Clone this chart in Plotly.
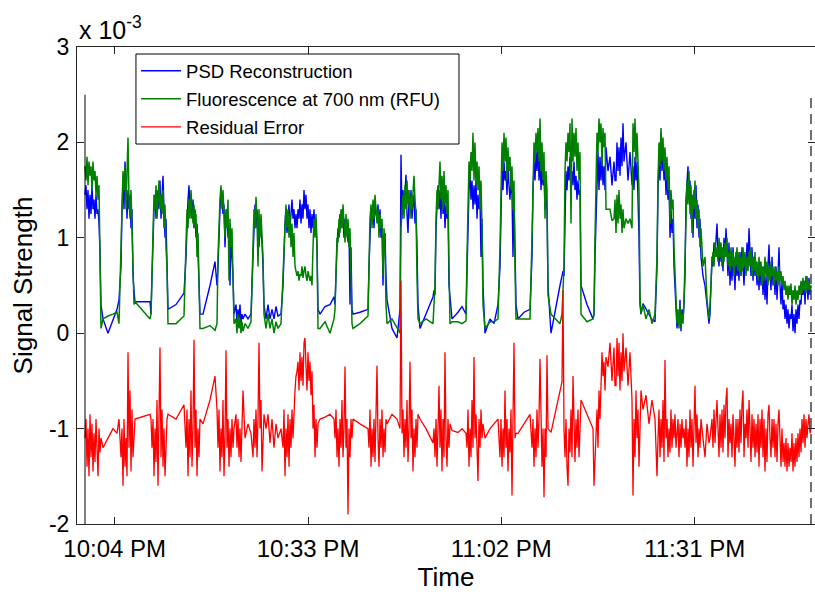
import pandas as pd
import plotly.graph_objects as go

# Sample times, seconds after 10:00:00 PM
time_s = [
    -27, -18, -9, 0, 9, 18, 27, 36, 45, 54, 63, 72, 81, 90, 99,
    108, 117, 135, 180, 225, 261, 279,
    297, 306, 315, 324, 333, 342, 351, 360, 369, 378, 387, 396, 405, 414, 423,
    558, 567, 576, 585, 594, 603, 612, 621, 630, 639, 648, 657, 666, 675, 684, 693, 702, 711, 720,
    792, 864, 882, 891, 900, 909, 918, 927, 936, 945, 954, 963, 972, 981, 990, 999, 1008,
    1035, 1098, 1143, 1161, 1170, 1179, 1188, 1197, 1206, 1215, 1224, 1233, 1242, 1251, 1260, 1269, 1278, 1287, 1296, 1305, 1314,
    1332, 1341, 1350, 1359, 1368, 1377, 1386, 1395, 1413, 1440, 1467,
    1485, 1494, 1503, 1512, 1521, 1530, 1539, 1548, 1557, 1566, 1575, 1584,
    1602, 1620, 1638, 1656, 1674, 1692, 1710, 1737,
    1755, 1764, 1773, 1782, 1791, 1800, 1809, 1818, 1827, 1836, 1845, 1854, 1863, 1872, 1881, 1890, 1899, 1908,
    1917, 1926, 1935, 1944, 1953, 1962, 1971, 1980, 1989, 1998, 2007, 2016, 2025, 2034, 2043, 2052, 2061, 2070,
    2088, 2133, 2178, 2214, 2223, 2232, 2241, 2250, 2259, 2268, 2277, 2286, 2295, 2304, 2313, 2322, 2331, 2340, 2349, 2358, 2367, 2376,
    2385, 2448, 2520, 2529, 2538, 2547, 2556, 2565, 2574, 2583, 2592, 2601, 2610, 2619, 2628, 2637, 2646, 2655, 2664, 2673, 2682, 2691,
    2736, 2781, 2808, 2817, 2826, 2835, 2844, 2853, 2862, 2871, 2880, 2889, 2898, 2907, 2916, 2925, 2934, 2943, 2952, 2961, 2970,
    2988, 3042, 3105, 3114, 3123, 3132, 3141, 3150, 3159, 3168, 3177, 3186, 3195, 3204, 3213, 3222, 3231, 3240, 3249, 3258,
    3276, 3330, 3366, 3402, 3411, 3420, 3429, 3438, 3447, 3456, 3465, 3474, 3483, 3492, 3501, 3510, 3519, 3528, 3537, 3546, 3555,
    3573, 3618, 3654, 3690, 3708, 3717, 3726, 3735, 3744, 3753, 3762, 3771, 3780, 3789, 3798, 3807, 3816, 3825, 3834, 3843, 3852,
    3870, 3924, 3978, 3996, 4005, 4014, 4023, 4032, 4041, 4050, 4059, 4068, 4077, 4086, 4095, 4104, 4113, 4122, 4131, 4140,
    4167, 4212, 4248, 4266, 4275, 4284, 4293, 4302, 4311, 4320, 4329, 4338, 4347, 4356, 4365, 4374, 4383, 4392, 4401, 4410, 4419, 4428, 4437,
    4491, 4545, 4554, 4563, 4572, 4581, 4590, 4599, 4608, 4617, 4626, 4635, 4644, 4653, 4662, 4680, 4698, 4716, 4734,
    4743, 4752, 4761, 4770, 4779, 4788, 4797, 4806, 4815, 4824, 4842, 4860, 4878, 4896,
    4905, 4914, 4923, 4932, 4941, 4950, 4959, 4968,
    4977, 4995, 5022, 5049, 5076, 5103,
    5121, 5130, 5139, 5148, 5157, 5166, 5175, 5184, 5193, 5202, 5211, 5220, 5229, 5238, 5247,
    5256, 5265, 5274, 5283, 5292, 5301, 5310, 5319, 5328, 5337, 5346, 5355, 5364, 5373, 5382,
    5391, 5400, 5409, 5418, 5427, 5436, 5445, 5454, 5463, 5472, 5481, 5490, 5499, 5508, 5517,
    5535, 5553, 5571, 5589,
    5598, 5607, 5616, 5625, 5634, 5643, 5652, 5661, 5670, 5679,
    5688, 5697, 5706, 5715, 5724, 5733, 5742, 5751, 5760, 5769,
    5778, 5787, 5796, 5805, 5814, 5823, 5832, 5841, 5850, 5859,
    5868, 5877, 5886, 5895, 5904, 5913, 5922, 5931, 5940, 5949,
    5958, 5967, 5976, 5985, 5994, 6003, 6012, 6021, 6030, 6039,
    6048, 6057, 6066, 6075, 6084, 6093, 6102, 6111, 6120, 6129,
    6138, 6147, 6156, 6165, 6174, 6183, 6192, 6201, 6210, 6219,
    6228, 6237, 6246, 6255, 6264, 6273, 6282, 6291, 6300, 6309,
    6318, 6327, 6336, 6345, 6354, 6363, 6372, 6381, 6390, 6399,
    6408, 6417, 6426, 6435, 6444, 6453, 6462, 6471, 6480, 6489,
    6498, 6507,
]

# Fluorescence at 700 nm (RFU), x 10^-3
fluorescence = [
    1.75, 1.6, 1.85, 1.55, 1.8, 1.65, 1.75, 1.5, 1.8, 1.6, 1.7, 1.45, 1.65, 1.4, 1.55,
    0.9, 0.05, 0.15, 0.18, 0.2, 0.22, 0.1,
    0.9, 1.4, 1.7, 1.5, 1.75, 1.3, 1.6, 2.05, 1.4, 1.2, 1.5, 1.0, 0.6, 0.3, 0.33,
    0.15, 0.2, 0.7, 1.2, 1.45, 1.3, 1.55, 1.2, 1.5, 1.6, 1.3, 1.45, 1.25, 1.5, 1.1, 1.35, 0.9, 0.7, 0.1,
    0.1, 0.18, 0.9, 1.3, 1.1, 1.4, 1.2, 1.5, 1.3, 1.15, 1.35, 1.1, 1.25, 0.8, 1.05, 0.6, 0.05,
    0.05, 0.08, 0.03, 0.1, 0.8, 1.2, 1.4, 1.55, 1.3, 1.5, 1.2, 1.0, 1.3, 1.1, 1.4, 0.55, 1.2, 0.9, 1.1, 0.5, 0.1,
    0.15, 0.0, 0.2, 0.05, 0.15, 0.0, 0.12, 0.02, 0.1, 0.05, 0.12,
    0.9, 1.3, 1.1, 1.43, 1.2, 0.7, 1.3, 1.0, 1.25, 1.05, 0.8, 0.2,
    0.05, 0.2, 0.05, 0.15, 0.0, 0.12, 0.05, 0.1,
    0.6, 1.0, 1.2, 1.35, 1.1, 1.3, 1.0, 1.25, 0.9, 1.15, 0.8, 1.05, 0.7, 0.65, 0.6, 0.65, 0.55, 0.62,
    0.6, 0.7, 0.58, 0.65, 0.7, 0.6, 0.55, 0.65, 0.6, 0.55, 0.6, 0.5, 0.9, 1.2, 1.0, 1.25, 0.9, 0.05,
    0.05, 0.12, 0.0, 0.15, 0.25, 0.8, 1.0, 0.95, 1.2, 1.05, 1.3, 1.1, 1.35, 1.15, 0.95, 1.25, 1.0, 1.2, 0.9, 1.1, 0.6, 0.1,
    0.05, 0.1, 0.18, 0.8, 1.2, 1.35, 1.1, 1.4, 1.2, 1.45, 1.3, 1.15, 1.3, 1.0, 1.25, 1.1, 1.2, 0.6, 1.1, 0.9, 0.3, 0.1,
    0.15, 0.05, 0.0, 1.1, 1.3, 1.45, 1.2, 1.55, 1.3, 1.6, 1.35, 1.5, 1.2, 1.45, 1.3, 1.55, 1.65, 1.4, 1.25, 0.6, 0.15,
    0.1, 0.15, 0.1, 0.3, 0.5, 1.2, 1.5, 1.3, 1.6, 1.8, 1.4, 1.65, 1.3, 1.7, 1.35, 1.55, 1.25, 1.5, 0.7, 0.1,
    0.12, 0.12, 0.1, 0.13, 0.8, 1.5, 1.8, 1.6, 1.9, 1.7, 2.1, 1.6, 2.0, 1.55, 1.8, 1.5, 1.75, 1.3, 1.6, 1.1, 0.3,
    0.05, 0.12, 0.12, 0.15, 0.9, 1.6, 2.0, 1.7, 2.1, 1.8, 2.05, 1.6, 1.95, 1.7, 1.85, 1.5, 1.75, 1.3, 1.6, 0.7, 0.15,
    0.15, 0.15, 0.15, 1.0, 1.7, 2.0, 1.8, 2.1, 1.9, 2.15, 1.8, 2.25, 1.7, 2.0, 1.6, 1.9, 1.2, 1.7, 1.5, 0.4,
    0.2, 0.15, 0.1, 0.2, 0.5, 0.7, 1.7, 2.0, 1.8, 2.1, 1.9, 2.2, 1.15, 2.25, 1.8, 2.1, 1.85, 2.15, 1.7, 2.0, 1.6, 1.9, 0.2,
    0.12, 0.15, 0.2, 1.0, 1.6, 2.1, 1.9, 2.25, 2.0, 2.2, 1.75, 2.15, 1.95, 2.1, 1.3, 1.3, 1.3, 1.18, 1.2,
    1.4, 1.05, 1.45, 1.15, 1.5, 1.2, 1.35, 1.05, 1.3, 1.1, 1.2, 1.15, 1.2, 1.1,
    2.2, 1.9, 2.25, 1.8, 2.1, 1.85, 1.5, 0.4,
    0.2, 0.3, 0.15, 0.25, 0.1, 0.2,
    0.8, 1.6, 2.0, 1.75, 2.15, 1.8, 2.05, 1.7, 1.95, 1.6, 1.85, 1.5, 1.75, 1.15, 1.5,
    1.3, 1.4, 0.9, 0.6, 0.3, 0.1, 0.25, 0.05, 0.3, 0.06, 0.2, 0.1, 0.35, 0.7, 1.3,
    1.6, 1.35, 1.7, 1.25, 1.55, 1.05, 1.45, 1.3, 1.6, 1.2, 1.4, 1.1, 1.3, 0.9, 1.1,
    0.7, 0.8, 0.35, 0.15,
    0.3, 0.55, 0.75, 0.85, 0.7, 0.95, 0.8, 0.9, 0.75, 1.0,
    0.8, 0.95, 0.7, 0.9, 0.75, 0.95, 0.8, 1.0, 0.7, 0.85,
    0.65, 0.9, 0.7, 0.85, 0.6, 0.8, 0.7, 0.9, 0.65, 0.85,
    0.6, 0.8, 0.65, 0.9, 0.7, 0.85, 0.6, 0.8, 0.65, 0.85,
    0.7, 0.9, 0.6, 0.8, 0.65, 0.85, 0.6, 0.75, 0.55, 0.8,
    0.6, 0.75, 0.5, 0.7, 0.55, 0.8, 0.6, 0.75, 0.5, 0.7,
    0.55, 0.75, 0.6, 0.7, 0.5, 0.7, 0.55, 0.65, 0.5, 0.7,
    0.55, 0.65, 0.5, 0.6, 0.45, 0.55, 0.4, 0.5, 0.35, 0.5,
    0.4, 0.52, 0.3, 0.45, 0.35, 0.5, 0.3, 0.45, 0.35, 0.5,
    0.4, 0.55, 0.42, 0.58, 0.45, 0.55, 0.42, 0.6, 0.45, 0.55,
    0.45, 0.5,
]

# PSD reconstruction, x 10^-3
psd_reconstruction = [
    1.45, 1.55, 1.3, 1.5, 1.2, 1.45, 1.25, 1.55, 1.3, 1.4, 1.2, 1.45, 1.25, 1.3, 1.15,
    0.85, 0.3, 0.15, 0.0, 0.15, 0.25, 0.35,
    0.7, 1.3, 1.6, 1.3, 1.8, 1.6, 1.2, 1.5, 1.3, 1.45, 1.1, 1.3, 0.6, 0.45, 0.33,
    0.33, 0.2, 0.6, 1.1, 1.3, 1.45, 1.2, 1.5, 1.3, 1.35, 1.6, 1.2, 1.5, 1.65, 1.3, 1.0, 1.2, 0.6, 0.25,
    0.3, 0.42, 0.8, 1.2, 1.4, 1.55, 1.3, 1.45, 1.2, 1.4, 1.1, 1.3, 1.0, 1.15, 0.8, 0.5, 0.2,
    0.2, 0.5, 0.75, 0.5, 0.7, 1.1, 1.3, 1.5, 1.4, 1.25, 1.35, 0.9, 1.2, 1.3, 1.0, 1.1, 0.5, 1.05, 0.8, 0.6, 0.2,
    0.3, 0.1, 0.25, 0.15, 0.3, 0.1, 0.2, 0.15, 0.2, 0.15, 0.2,
    0.8, 1.2, 1.35, 1.1, 1.3, 1.15, 0.9, 1.2, 1.1, 0.95, 0.7, 0.3,
    0.15, 0.3, 0.15, 0.25, 0.15, 0.28, 0.18, 0.2,
    0.5, 0.95, 1.15, 1.3, 1.05, 1.2, 1.35, 1.1, 1.25, 1.4, 1.2, 1.3, 1.1, 1.25, 1.1, 1.3, 1.2, 1.4,
    1.15, 1.35, 1.2, 1.5, 1.3, 1.45, 1.2, 1.35, 1.1, 1.3, 1.05, 1.25, 1.1, 1.3, 1.05, 1.2, 0.9, 0.25,
    0.2, 0.28, 0.3, 0.38, 0.3, 0.7, 0.9, 1.1, 1.0, 1.25, 1.1, 1.3, 1.2, 1.0, 1.2, 1.05, 1.15, 0.95, 1.1, 0.3, 0.9, 0.25,
    0.2, 0.22, 0.25, 0.7, 1.1, 1.3, 1.2, 1.35, 1.1, 1.4, 1.25, 1.2, 1.35, 1.1, 1.3, 1.0, 1.15, 0.5, 1.0, 1.05, 0.6, 0.35,
    0.05, -0.05, 0.25, 1.87, 1.2, 1.5, 1.3, 1.45, 1.66, 1.25, 1.05, 1.4, 1.3, 1.5, 1.2, 1.35, 1.45, 1.15, 1.3, 0.9, 0.3,
    0.05, 0.2, 0.38, 0.45, 0.4, 1.1, 1.4, 1.55, 1.3, 1.5, 1.2, 1.6, 1.25, 1.45, 1.1, 1.35, 1.2, 1.3, 0.5, 0.35,
    0.15, 0.22, 0.28, 0.2, 0.6, 1.3, 1.5, 1.7, 1.4, 1.6, 1.3, 1.55, 1.35, 1.6, 1.2, 1.45, 1.3, 1.4, 0.8, 1.2, 0.5,
    0.0, 0.15, 0.1, 0.3, 0.7, 1.4, 1.75, 1.5, 1.8, 1.6, 1.7, 1.45, 1.75, 1.55, 1.4, 1.6, 1.45, 0.8, 1.4, 0.9, 0.3,
    0.15, 0.22, 0.25, 0.8, 1.5, 1.8, 1.6, 1.9, 1.7, 2.0, 1.6, 1.85, 1.5, 1.75, 1.55, 1.7, 1.3, 1.45, 1.3, 0.5,
    0.0, 0.3, 0.5, 0.6, 0.65, 0.6, 1.26, 1.7, 1.5, 1.75, 1.6, 1.85, 1.5, 1.7, 1.55, 1.8, 1.5, 1.65, 1.4, 1.6, 1.45, 1.5, 0.5,
    0.3, 0.15, 0.2, 0.8, 1.2, 1.6, 1.9, 1.5, 1.85, 1.6, 1.9, 1.55, 1.75, 1.5, 1.95, 1.7, 1.85, 1.55, 1.8,
    1.6, 1.6, 2.0, 1.7, 1.95, 1.65, 2.05, 1.75, 2.2, 1.8, 2.0, 1.6, 1.9, 1.55,
    1.75, 1.5, 1.85, 1.6, 1.8, 1.5, 1.0, 0.3,
    0.2, 0.31, 0.25, 0.2, 0.14, 0.12,
    0.7, 1.5, 1.85, 1.6, 2.1, 1.7, 1.9, 1.6, 1.8, 1.45, 1.7, 1.4, 1.6, 1.0, 1.3,
    1.05, 1.2, 0.7, 0.5, 0.35, 0.05, 0.2, 0.1, 0.35, 0.02, 0.25, 0.15, 0.3, 0.6, 1.4,
    1.6, 1.75, 1.4, 1.6, 1.2, 1.45, 1.0, 1.5, 1.2, 1.55, 1.1, 1.35, 1.0, 1.2, 0.8,
    0.6, 0.5, 0.3, 0.1,
    0.2, 0.5, 0.8, 0.7, 0.95, 0.8, 1.0, 1.15, 0.85, 0.7,
    0.95, 0.75, 0.9, 0.65, 1.0, 0.8, 1.1, 0.85, 0.6, 0.95,
    0.5, 0.8, 0.55, 0.9, 0.6, 0.45, 0.85, 0.6, 0.75, 0.55,
    0.85, 0.6, 0.9, 0.7, 0.5, 0.8, 0.65, 0.95, 0.7, 1.1,
    0.8, 0.6, 0.9, 0.55, 0.8, 0.6, 0.75, 0.5, 0.7, 0.45,
    0.75, 0.5, 0.7, 0.4, 0.65, 0.35, 0.6, 0.3, 0.7, 0.93,
    0.6, 0.45, 0.8, 0.5, 0.65, 0.4, 0.7, 0.35, 0.6, 0.9,
    0.5, 0.3, 0.55, 0.25, 0.35, 0.15, 0.3, 0.1, 0.25, 0.05,
    0.2, 0.15, 0.3, 0.02, 0.2, 0.0, 0.25, 0.1, 0.3, 0.15,
    0.35, 0.3, 0.5, 0.4, 0.55, 0.3, 0.6, 0.45, 0.35, 0.58,
    0.4, 0.5,
]

# Residual error, shown offset by -1 x 10^-3
residual_error = [
    -1.1, -0.9, -1.4, -1.0, -1.5, -0.85, -1.3, -0.95, -1.45, -1.05, -1.35, -0.9, -1.2, -1.5, -1.0,
    -1.25, -1.1, -1.2, -1.1, -1.0, -1.05, -0.9,
    -1.3, -1.0, -1.6, -0.9, -1.4, -1.1, -1.5, -0.2, -1.2, -0.6, -1.45, -0.8, -1.3, -1.0, -0.9,
    -0.85, -0.9, -1.2, -0.9, -1.5, -1.0, -1.35, -0.7, -1.6, -0.9, -0.15, -1.3, -0.8, -1.4, -1.0, -1.5, -1.1, -0.9, -0.85,
    -0.9, -0.75, -1.2, -0.8, -1.5, -0.9, -1.3, -0.6, -1.4, -1.0, -0.07, -1.2, -0.8, -1.5, -1.0, -1.3, -0.9,
    -0.95, -0.7, -0.45, -0.8, -1.2, -0.8, -1.45, -1.0, -1.3, -0.7, -1.5, -1.1, -0.18, -1.2, -0.9, -1.4, -1.0, -1.3, -0.9, -1.2, -1.0,
    -0.85, -1.2, -0.9, -1.3, -1.0, -1.35, -0.9, -0.6, -1.1, -0.95, -1.05,
    -1.3, -0.9, -1.2, -0.8, -1.3, -0.9, -0.1, -1.0, -0.7, -1.45, -1.1, -0.85,
    -1.0, -0.85, -1.15, -0.9, -1.2, -0.95, -1.1, -1.0,
    -1.2, -0.8, -1.5, -1.0, -1.3, -0.85, -1.4, -0.9, -1.2, -0.8, -1.1, -0.75, -0.6, -0.45, -0.4, -0.3, -0.6, -0.2,
    -0.5, -0.25, -0.55, -0.1, -0.05, -0.35, -0.6, -0.2, -0.5, -0.3, -0.65, -0.4, -1.0, -0.75, -1.3, -0.9, -1.2, -0.95,
    -0.9, -0.88, -0.85, -0.9, -1.1, -0.8, -1.3, -1.0, -1.4, -0.9, -1.2, -0.7, -1.3, -1.0, -0.35, -1.2, -0.9, -1.9, -1.0, -1.3, -0.9, -1.1,
    -0.9, -0.95, -1.0, -1.2, -0.8, -1.4, -1.0, -1.3, -0.9, -1.35, -0.8, -0.34, -1.1, -1.4, -0.9, -1.2, -0.8, -1.3, -1.0, -1.25, -0.9, -0.95,
    -0.85, -0.9, -1.0, 0.55, -1.05, -0.8, -1.3, -0.9, -1.2, -0.7, -1.35, -1.0, -0.3, -1.1, -0.8, -1.45, -1.0, -1.3, -0.9, -1.2, -0.85,
    -0.9, -1.0, -1.15, -1.0, -1.3, -0.9, -1.4, -1.0, -0.55, -1.2, -0.8, -1.45, -0.9, -1.3, -0.2, -1.1, -1.4, -0.9, -1.2, -0.95,
    -1.02, -1.04, -1.0, -1.05, -1.2, -0.8, -1.4, -1.0, -1.3, -0.7, -1.2, -0.25, -1.1, -0.85, -1.3, -1.55, -0.9, -1.2, -0.8, -1.1, -0.95,
    -1.1, -1.0, -0.95, -0.9, -1.3, -0.9, -1.4, -1.0, -1.3, -0.6, -1.2, -0.9, -1.45, -1.0, -1.25, -0.8, -1.7, -1.0, -0.1, -1.1, -1.05,
    -1.05, -0.95, -0.85, -1.2, -0.9, -1.4, -1.0, -1.3, -0.8, -1.2, -0.9, -0.27, -1.1, -1.4, -1.0, -1.72, -1.0, -1.3, -0.23, -1.0,
    -1.04, -0.8, -0.6, -0.51, 0.45, -1.0, -1.3, -0.9, -1.4, -1.6, -1.0, -1.25, -0.8, -1.3, -0.45, -1.1, -1.35, -0.9, -1.2, -0.8, -1.3, -1.0, -0.7,
    -0.85, -1.0, -1.6, -1.3, -1.1, -0.8, -1.2, -0.6, -0.9, -0.5, -0.2, -0.45, -0.3, -0.6, -0.25, -0.35, -0.1, -0.5, -0.15,
    -0.55, -0.55, -0.05, -0.45, -0.1, -0.6, -0.2, -0.5, 0.0, -0.4, -0.15, -0.55, -0.2, -0.7,
    -1.7, -0.9, -1.3, -0.6, -1.1, -0.8, -1.4, -0.9,
    -0.6, -0.8, -0.65, -0.95, -0.7, -0.9,
    -1.5, -1.1, -0.8, -1.3, -0.9, -1.2, -0.7, -1.35, -0.28, -1.1, -0.9, -1.3, -1.0, -1.25, -0.8,
    -1.2, -0.9, -1.1, -0.85, -1.2, -1.0, -0.9, -1.3, -0.95, -1.2, -0.9, -1.1, -1.0, -1.2, -0.9,
    -1.4, -1.0, -1.3, -0.8, -1.2, -0.9, -1.4, -1.0, -0.55, -1.15, -0.85, -1.3, -1.0, -1.2, -0.9,
    -1.1, -1.3, -0.95, -1.15,
    -1.1, -0.95, -0.9, -1.2, -0.8, -1.15, -0.85, -0.7, -1.0, -1.3,
    -0.85, -1.2, -0.8, -1.25, -0.75, -1.1, -0.7, -0.57, -1.3, -0.9,
    -1.15, -0.95, -1.3, -0.85, -1.1, -1.4, -0.9, -1.2, -0.9, -1.25,
    -0.8, -1.15, -0.75, -0.6, -1.3, -0.95, -1.1, -0.8, -1.2, -0.7,
    -1.0, -1.35, -0.85, -1.2, -0.9, -1.3, -0.95, -1.25, -0.85, -1.4,
    -0.9, -1.2, -0.8, -1.3, -0.9, -1.45, -1.0, -1.35, -0.85, -0.75,
    -1.1, -1.3, -0.9, -1.2, -0.9, -1.3, -0.95, -1.35, -0.95, -0.8,
    -1.1, -1.4, -1.0, -1.35, -1.15, -1.4, -1.1, -1.45, -1.15, -1.4,
    -1.2, -1.35, -1.05, -1.45, -1.15, -1.4, -1.1, -1.35, -1.05, -1.3,
    -1.0, -1.25, -0.9, -1.15, -0.85, -1.2, -0.9, -1.1, -0.95, -0.85,
    -1.05, -1.0,
]

assert len(time_s) == len(fluorescence) == len(psd_reconstruction) == len(residual_error)

# Record start / end markers (seconds after 10:00 PM) and their top value
record_start_s = -27
record_end_s = 6507
marker_top = 2.5

tick_times = ["22:04", "22:33", "23:02", "23:31"]
tick_labels = ["10:04 PM", "10:33 PM", "11:02 PM", "11:31 PM"]
y_ticks = [-2, -1, 0, 1, 2, 3]

day = "2013-06-20"
t0 = pd.Timestamp(f"{day} 22:00:00")
times = t0 + pd.to_timedelta(time_s, unit="s")
x_range = [t0 + pd.Timedelta(seconds=-99), t0 + pd.Timedelta(seconds=6543)]

FONT = "Liberation Sans, Arial, Helvetica, sans-serif"
AXIS = "#262626"

fig = go.Figure()
fig.add_trace(go.Scatter(x=times, y=psd_reconstruction, mode="lines", name="PSD Reconstruction",
                         line=dict(color="#0000ff", width=1.4), legendgroup="psd"))
fig.add_trace(go.Scatter(x=times, y=fluorescence, mode="lines", name="Fluorescence at 700 nm (RFU)",
                         line=dict(color="#008000", width=1.5), legendgroup="fl"))
fig.add_trace(go.Scatter(x=times, y=residual_error, mode="lines", name="Residual Error",
                         line=dict(color="#ff0000", width=1.3), legendgroup="res"))

t_start = t0 + pd.Timedelta(seconds=record_start_s)
t_end = t0 + pd.Timedelta(seconds=record_end_s)
fig.add_shape(type="line", xref="x", yref="y", x0=t_start, x1=t_start, y0=y_ticks[0], y1=marker_top,
              line=dict(color="black", width=1))
fig.add_shape(type="line", xref="x", yref="y", x0=t_end, x1=t_end, y0=y_ticks[0], y1=marker_top,
              line=dict(color="#404040", width=1.5, dash="10px,6px"))

# Legend frame (the legend itself is drawn borderless on top of it)
fig.add_shape(type="rect", xref="paper", yref="paper", x0=0.0799, x1=0.5176, y0=0.7966, y1=0.9853,
              fillcolor="white", line=dict(color="black", width=1), layer="above")

fig.add_annotation(xref="paper", yref="paper", x=0, y=1, xanchor="left", yanchor="bottom",
                   xshift=0, yshift=1, showarrow=False,
                   text="x 10<sup>-3</sup>", font=dict(family=FONT, size=25, color="black"))

fig.update_layout(
    width=815, height=592,
    margin=dict(l=77, r=0, t=47, b=68),
    paper_bgcolor="white", plot_bgcolor="white",
    font=dict(family=FONT, color="black"),
    showlegend=True,
    legend=dict(x=0.08, y=0.989, xanchor="left", yanchor="top",
                bgcolor="rgba(0,0,0,0)", borderwidth=0,
                font=dict(family=FONT, size=18.5), tracegroupgap=1, itemwidth=40),
    xaxis=dict(type="date", range=x_range, tickmode="array",
               tickvals=[pd.Timestamp(f"{day} {t}") for t in tick_times], ticktext=tick_labels,
               ticks="inside", ticklen=7, tickcolor=AXIS, showline=True, linecolor=AXIS, linewidth=1,
               mirror="allticks", showgrid=False, zeroline=False, ticklabelstandoff=3,
               tickfont=dict(family=FONT, size=24),
               title=dict(text="Time", font=dict(family=FONT, size=26), standoff=4)),
    yaxis=dict(range=[-2, 3], tickmode="array", tickvals=y_ticks, ticktext=[str(v) for v in y_ticks],
               ticks="inside", ticklen=7, tickcolor=AXIS, showline=True, linecolor=AXIS, linewidth=1,
               mirror="allticks", showgrid=False, zeroline=False, ticklabelstandoff=2,
               tickfont=dict(family=FONT, size=23),
               title=dict(text="Signal Strength", font=dict(family=FONT, size=26), standoff=8)),
)

fig.write_html("out.html")
